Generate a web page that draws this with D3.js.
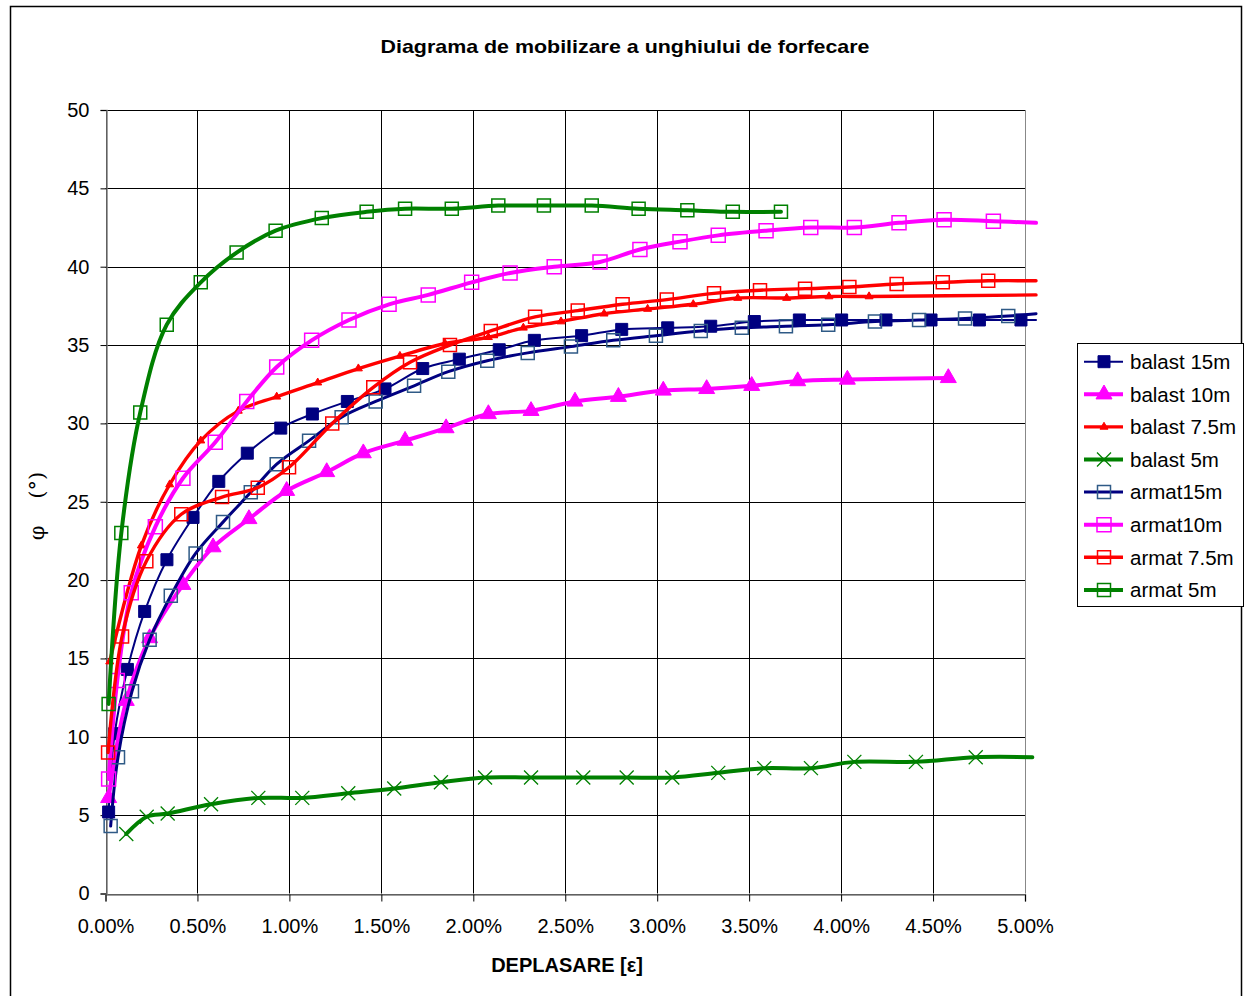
<!DOCTYPE html>
<html>
<head>
<meta charset="utf-8">
<script src="https://cdn.jsdelivr.net/npm/d3@7"></script>
<style>
  html, body { margin: 0; padding: 0; background: #fff; }
  svg { display: block; font-family: "Liberation Sans", Arial, sans-serif; }
</style>
</head>
<body>
<svg id="chart" width="1245" height="996"></svg>
<script>
// ---- data (x in %, y in degrees) ----
const xTicks = [0, 0.5, 1, 1.5, 2, 2.5, 3, 3.5, 4, 4.5, 5];
const yTicks = [0, 5, 10, 15, 20, 25, 30, 35, 40, 45, 50];
const seriesNames = ["balast 15m", "balast 10m", "balast 7.5m", "balast 5m", "armat15m", "armat10m", "armat 7.5m", "armat 5m"];

const balast15X = [0.017, 0.050, 0.119, 0.213, 0.334, 0.476, 0.616, 0.771, 0.953, 1.125, 1.315, 1.520, 1.725, 1.924, 2.141, 2.332, 2.589, 2.807, 3.057, 3.291, 3.528, 3.773, 4.003, 4.244, 4.489, 4.752, 4.978, 5.06];
const balast15Y = [5.2, 10.2, 14.3, 18.0, 21.3, 24.0, 26.3, 28.1, 29.7, 30.6, 31.4, 32.2, 33.5, 34.1, 34.7, 35.3, 35.6, 36.0, 36.1, 36.2, 36.5, 36.6, 36.6, 36.6, 36.6, 36.6, 36.6, 36.6];

const balast10X = [0.017, 0.113, 0.240, 0.421, 0.585, 0.780, 0.985, 1.203, 1.402, 1.629, 1.852, 2.082, 2.314, 2.553, 2.789, 3.033, 3.269, 3.514, 3.764, 4.034, 4.583];
const balast10Y = [6.1, 12.3, 16.3, 19.7, 22.1, 23.9, 25.7, 26.9, 28.1, 28.9, 29.7, 30.6, 30.8, 31.4, 31.7, 32.1, 32.2, 32.4, 32.7, 32.8, 32.9];

const balast75X = [0.023, 0.195, 0.349, 0.518, 0.722, 0.931, 1.154, 1.375, 1.601, 1.846, 2.082, 2.272, 2.477, 2.711, 2.948, 3.196, 3.438, 3.704, 3.934, 4.152, 5.06];
const balast75Y = [14.8, 22.2, 26.1, 28.9, 30.8, 31.7, 32.6, 33.5, 34.3, 35.1, 35.5, 36.1, 36.5, 37.0, 37.3, 37.6, 38.0, 38.0, 38.1, 38.1, 38.2];

const balast5X = [0.113, 0.224, 0.338, 0.574, 0.831, 1.070, 1.320, 1.570, 1.824, 2.064, 2.314, 2.598, 2.834, 3.082, 3.332, 3.582, 3.836, 4.072, 4.407, 4.732, 5.04];
const balast5Y = [3.8, 4.9, 5.1, 5.7, 6.1, 6.1, 6.4, 6.7, 7.1, 7.4, 7.4, 7.4, 7.4, 7.4, 7.7, 8.0, 8.0, 8.4, 8.4, 8.7, 8.7];

const armat15X = [0.028, 0.068, 0.144, 0.240, 0.355, 0.490, 0.639, 0.790, 0.931, 1.107, 1.284, 1.469, 1.678, 1.864, 2.076, 2.296, 2.531, 2.761, 2.993, 3.237, 3.460, 3.700, 3.930, 4.184, 4.424, 4.674, 4.909, 5.06];
const armat15Y = [4.3, 8.7, 12.9, 16.2, 19.0, 21.7, 23.7, 25.6, 27.4, 28.9, 30.4, 31.4, 32.4, 33.3, 34.0, 34.5, 34.9, 35.3, 35.6, 35.9, 36.1, 36.2, 36.3, 36.5, 36.6, 36.7, 36.85, 37.0];

const armat10X = [0.017, 0.064, 0.140, 0.271, 0.421, 0.597, 0.768, 0.931, 1.121, 1.324, 1.542, 1.755, 1.991, 2.200, 2.440, 2.689, 2.906, 3.124, 3.332, 3.592, 3.835, 4.072, 4.315, 4.560, 4.828, 5.06];
const armat10Y = [7.3, 13.6, 19.2, 23.4, 26.5, 28.8, 31.4, 33.6, 35.3, 36.6, 37.6, 38.2, 39.0, 39.6, 40.0, 40.3, 41.1, 41.6, 42.0, 42.3, 42.5, 42.5, 42.8, 43.0, 42.9, 42.8];

const armat75X = [0.014, 0.090, 0.222, 0.412, 0.634, 0.828, 0.998, 1.233, 1.456, 1.656, 1.873, 2.095, 2.336, 2.568, 2.812, 3.052, 3.309, 3.559, 3.804, 4.045, 4.302, 4.553, 4.800, 5.06];
const armat75Y = [9.0, 16.4, 21.2, 24.2, 25.3, 25.9, 27.2, 30.0, 32.3, 33.9, 35.0, 35.9, 36.8, 37.2, 37.6, 37.9, 38.3, 38.5, 38.6, 38.7, 38.9, 39.0, 39.1, 39.1];

const armat5X = [0.017, 0.086, 0.189, 0.333, 0.518, 0.713, 0.925, 1.176, 1.420, 1.629, 1.883, 2.136, 2.384, 2.644, 2.899, 3.164, 3.411, 3.673];
const armat5Y = [12.1, 23.0, 30.7, 36.3, 39.0, 40.9, 42.3, 43.1, 43.5, 43.7, 43.7, 43.9, 43.9, 43.9, 43.7, 43.6, 43.5, 43.5];

// ---- styles ----
const styles = [
  {x: balast15X, y: balast15Y, color: "#000080", width: 2,   marker: "square",   fill: "#000080", stroke: "#000080", size: 12},
  {x: balast10X, y: balast10Y, color: "#FF00FF", width: 4,   marker: "triangle", fill: "#FF00FF", stroke: "#FF00FF", size: 16},
  {x: balast75X, y: balast75Y, color: "#FF0000", width: 3.4, marker: "triangle", fill: "#FF0000", stroke: "#FF0000", size: 8},
  {x: balast5X,  y: balast5Y,  color: "#008000", width: 4,   marker: "x",        fill: "none",    stroke: "#008000", size: 14},
  {x: armat15X,  y: armat15Y,  color: "#000080", width: 3,   marker: "square",   fill: "none",    stroke: "#2F5A86", size: 13},
  {x: armat10X,  y: armat10Y,  color: "#FF00FF", width: 4,   marker: "square",   fill: "none",    stroke: "#FF00FF", size: 14},
  {x: armat75X,  y: armat75Y,  color: "#FF0000", width: 3.4, marker: "square",   fill: "none",    stroke: "#FF0000", size: 13},
  {x: armat5X,   y: armat5Y,   color: "#008000", width: 4,   marker: "square",   fill: "none",    stroke: "#008000", size: 13}
];

const svg = d3.select("#chart");
const L = 105.5, R = 1025, T = 110, B = 893.5;
const x = d3.scaleLinear().domain([0, 5]).range([L, R]);
const y = d3.scaleLinear().domain([0, 50]).range([B, T]);

// outer border
svg.append("rect").attr("x", 10.5).attr("y", 6.5).attr("width", 1231).attr("height", 1000)
  .attr("fill", "#fff").attr("stroke", "#000").attr("stroke-width", 1.5);

// title
svg.append("text").attr("x", 625).attr("y", 53).attr("text-anchor", "middle")
  .attr("font-size", 19).attr("font-weight", "bold").attr("textLength", 489).attr("lengthAdjust", "spacingAndGlyphs")
  .text("Diagrama de mobilizare a unghiului de forfecare");

// gridlines
const grid = svg.append("g");
grid.selectAll("line.h").data(yTicks).join("line")
  .attr("x1", L).attr("x2", R).attr("y1", d => Math.round(y(d)) + 0.5).attr("y2", d => Math.round(y(d)) + 0.5)
  .attr("stroke", "#000").attr("stroke-width", 1);
grid.selectAll("line.v").data(xTicks).join("line")
  .attr("y1", T).attr("y2", B).attr("x1", d => Math.round(x(d)) + 0.5).attr("x2", d => Math.round(x(d)) + 0.5)
  .attr("stroke", d => d === 5 ? "#888" : "#000").attr("stroke-width", 1);

// axes
const yAxis = d3.axisLeft(y).tickValues(yTicks).tickSize(6).tickPadding(11).tickFormat(d3.format("d"));
const gy = svg.append("g").attr("transform", `translate(${Math.round(L) + 0.5},0)`).call(yAxis);
gy.select(".domain").attr("stroke", "#808080").attr("stroke-width", 1.5);
gy.selectAll(".tick line").attr("stroke", "#000");
gy.selectAll(".tick text").attr("font-size", 20).attr("fill", "#000").attr("font-family", "Liberation Sans, Arial, sans-serif");

const xAxis = d3.axisBottom(x).tickValues(xTicks).tickSize(7).tickPadding(17).tickFormat(d => d.toFixed(2) + "%");
const gx = svg.append("g").attr("transform", `translate(0,${Math.round(B) + 0.5})`).call(xAxis);
gx.select(".domain").attr("stroke", "#808080").attr("stroke-width", 1.5);
gx.selectAll(".tick line").attr("stroke", "#000");
gx.selectAll(".tick text").attr("font-size", 20).attr("fill", "#000").attr("font-family", "Liberation Sans, Arial, sans-serif");

// axis titles
svg.append("text").attr("x", 567).attr("y", 972).attr("text-anchor", "middle")
  .attr("font-size", 20).attr("font-weight", "bold").text("DEPLASARE [ε]");
svg.append("text").attr("transform", "translate(44,506) rotate(-90)").attr("text-anchor", "middle")
  .attr("font-size", 21).attr("font-family", "DejaVu Serif, serif").attr("xml:space", "preserve")
  .style("white-space", "pre").text("φ    (°)");

// marker path generator
function markerPath(type, size) {
  if (type === "square") return d3.symbol(d3.symbolSquare, size * size)();
  if (type === "triangle") return d3.symbol(d3.symbolTriangle, size * size * Math.sqrt(3) / 4)();
  const h = size / 2;
  return `M${-h},${-h}L${h},${h}M${-h},${h}L${h},${-h}`;
}

const line = d3.line().x(d => x(d[0])).y(d => y(d[1])).curve(d3.curveCatmullRom.alpha(0.5));

styles.forEach(s => {
  const pts = s.x.map((v, i) => [v, s.y[i]]);
  const g = svg.append("g");
  g.append("path").attr("d", line(pts)).attr("fill", "none").attr("stroke", s.color)
    .attr("stroke-width", s.width).attr("stroke-linejoin", "round").attr("stroke-linecap", "round");
  g.selectAll("path.m").data(pts.filter(p => p[0] <= 5)).join("path")
    .attr("transform", d => `translate(${x(d[0])},${y(d[1])})`)
    .attr("d", markerPath(s.marker, s.size))
    .attr("fill", s.fill).attr("stroke", s.stroke)
    .attr("stroke-width", s.marker === "x" ? 1.3 : (s.fill === "none" ? 1.5 : 1));
});

// legend
const lg = svg.append("g");
lg.append("rect").attr("x", 1077.5).attr("y", 343.5).attr("width", 166).attr("height", 263)
  .attr("fill", "#fff").attr("stroke", "#000").attr("stroke-width", 1);
seriesNames.forEach((name, i) => {
  const s = styles[i];
  const cy = 361.7 + i * 32.6;
  lg.append("line").attr("x1", 1084).attr("x2", 1123).attr("y1", cy).attr("y2", cy)
    .attr("stroke", s.color).attr("stroke-width", s.width);
  lg.append("path").attr("transform", `translate(1104,${cy})`).attr("d", markerPath(s.marker, s.size))
    .attr("fill", s.fill).attr("stroke", s.stroke)
    .attr("stroke-width", s.marker === "x" ? 1.3 : (s.fill === "none" ? 1.5 : 1));
  lg.append("text").attr("x", 1130).attr("y", cy).attr("dy", "0.36em").attr("font-size", 20.5).text(name);
});
</script>
</body>
</html>
